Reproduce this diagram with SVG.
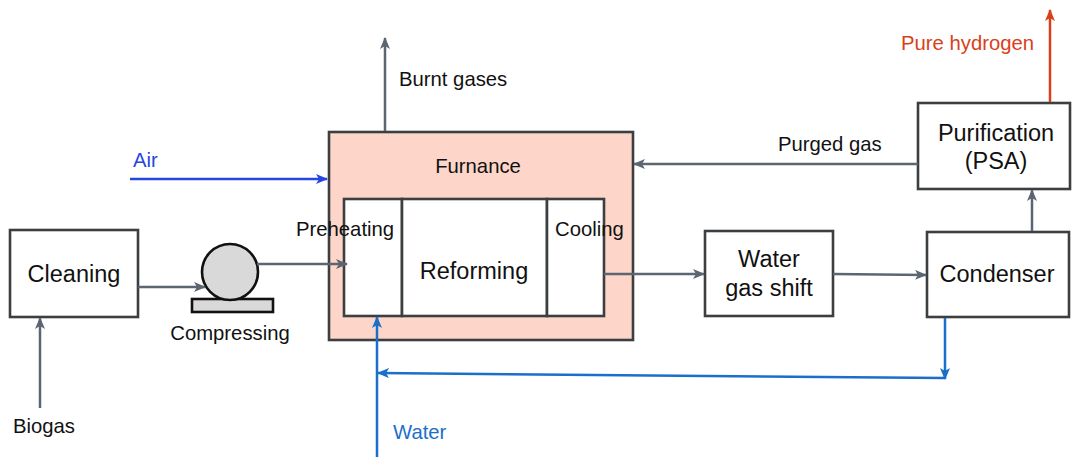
<svg xmlns="http://www.w3.org/2000/svg" width="1072" height="457" viewBox="0 0 1072 457">
<defs>
<style>
.box{fill:#fff;stroke:#3c3f42;stroke-width:2.6}
.t{font-family:"Liberation Sans",Arial,sans-serif;fill:#111}
.big{font-size:23.5px}
.sm{font-size:20.3px}
.g{fill:none;stroke:#5b6670;stroke-width:2.5}
.b{fill:none;stroke:#1a6fc8;stroke-width:2.5}
</style>
<marker id="ag" markerWidth="12" markerHeight="10" refX="11" refY="5" orient="auto" markerUnits="userSpaceOnUse"><path d="M0,0 L12,5 L0,10 L3,5 Z" fill="#5b6670"/></marker>
<marker id="ab" markerWidth="12" markerHeight="10" refX="11" refY="5" orient="auto" markerUnits="userSpaceOnUse"><path d="M0,0 L12,5 L0,10 L3,5 Z" fill="#1a6fc8"/></marker>
<marker id="aa" markerWidth="12" markerHeight="10" refX="11" refY="5" orient="auto" markerUnits="userSpaceOnUse"><path d="M0,0 L12,5 L0,10 L3,5 Z" fill="#2547e0"/></marker>
<marker id="ar" markerWidth="12" markerHeight="10" refX="11" refY="5" orient="auto" markerUnits="userSpaceOnUse"><path d="M0,0 L12,5 L0,10 L3,5 Z" fill="#d9401a"/></marker>
</defs>
<rect width="1072" height="457" fill="#fff"/>
<g id="furnace">
<rect x="329" y="132" width="304" height="208" fill="#fdd6c9" stroke="#3c3f42" stroke-width="2.6"/>
<text class="t sm" x="478" y="173" text-anchor="middle">Furnance</text>
</g>
<g id="preheating">
<rect class="box" x="344" y="199" width="58" height="117"/>
</g>
<g id="reforming">
<rect class="box" x="402" y="199" width="145" height="117"/>
<text class="t big" x="474" y="279" text-anchor="middle">Reforming</text>
</g>
<g id="cooling">
<rect class="box" x="547" y="199" width="57" height="117"/>
</g>
<g id="cleaning">
<rect class="box" x="10" y="230" width="128" height="87"/>
<text class="t big" x="74" y="282" text-anchor="middle">Cleaning</text>
</g>
<g id="compressing">
<rect x="192" y="299" width="81" height="13" fill="#d9d9d9" stroke="#111" stroke-width="2.6"/>
<circle cx="230" cy="272" r="28" fill="#d9d9d9" stroke="#111" stroke-width="2.6"/>
<text class="t sm" x="230" y="340" text-anchor="middle">Compressing</text>
</g>
<g id="wgs">
<rect class="box" x="705" y="231" width="128" height="85"/>
<text class="t big" x="769" y="267" text-anchor="middle">Water</text>
<text class="t big" x="769" y="296" text-anchor="middle">gas shift</text>
</g>
<g id="condenser">
<rect class="box" x="927" y="232" width="142" height="85"/>
<text class="t big" x="997" y="282" text-anchor="middle">Condenser</text>
</g>
<g id="purification">
<rect class="box" x="918" y="103" width="152" height="86"/>
<text class="t big" x="996" y="141" text-anchor="middle">Purification</text>
<text class="t big" x="996" y="169" text-anchor="middle">(PSA)</text>
</g>
<g id="labels">
<text class="t sm" x="296" y="236">Preheating</text>
<text class="t sm" x="555" y="236">Cooling</text>
<text class="t sm" x="399" y="86">Burnt gases</text>
<text class="t sm" x="778" y="151">Purged gas</text>
<text class="t sm" x="13" y="433">Biogas</text>
<text class="t sm" x="133" y="167" style="fill:#2547e0">Air</text>
<text class="t sm" x="393" y="439" style="fill:#1a6fc8">Water</text>
<text class="t sm" x="901" y="50" style="fill:#d9401a">Pure hydrogen</text>
</g>
<g id="connectors">
<line class="g" x1="40" y1="408" x2="40" y2="318" marker-end="url(#ag)"/>
<line class="g" x1="138" y1="287" x2="205" y2="287" marker-end="url(#ag)"/>
<line class="g" x1="257" y1="264" x2="347" y2="264" marker-end="url(#ag)"/>
<line class="g" x1="385" y1="131" x2="385" y2="38" marker-end="url(#ag)"/>
<line x1="130" y1="179" x2="327" y2="179" fill="none" stroke="#2547e0" stroke-width="2.5" marker-end="url(#aa)"/>
<line class="g" x1="918" y1="164" x2="634" y2="164" marker-end="url(#ag)"/>
<line class="g" x1="604" y1="274" x2="704" y2="274" marker-end="url(#ag)"/>
<line class="g" x1="833" y1="274" x2="926" y2="275" marker-end="url(#ag)"/>
<line class="g" x1="1032" y1="231" x2="1032" y2="190" marker-end="url(#ag)"/>
<line x1="1050" y1="102" x2="1050" y2="10" fill="none" stroke="#d9401a" stroke-width="2.5" marker-end="url(#ar)"/>
<line class="b" x1="945" y1="318" x2="945" y2="379" marker-end="url(#ab)"/>
<line class="b" x1="945" y1="378" x2="378" y2="373" marker-end="url(#ab)"/>
<line class="b" x1="377" y1="457" x2="377" y2="317" marker-end="url(#ab)"/>
</g>
</svg>
